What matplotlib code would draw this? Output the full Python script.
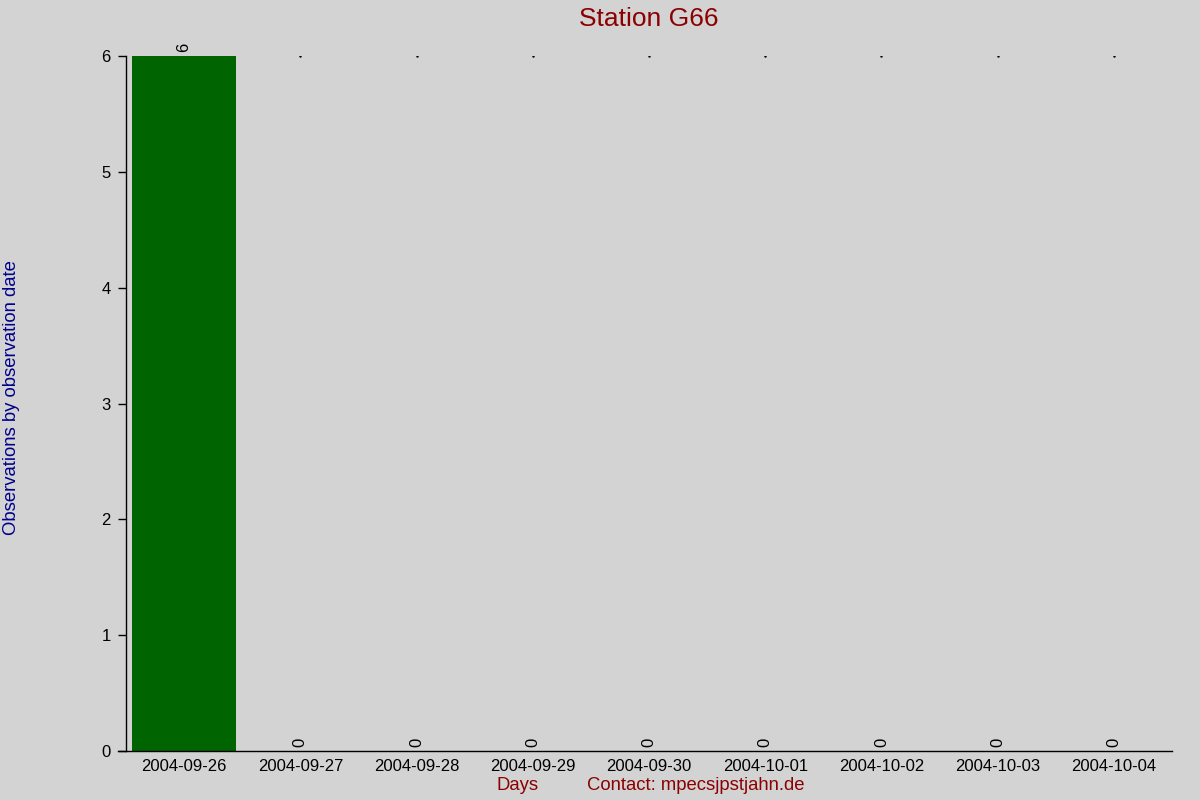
import matplotlib
matplotlib.use('Agg')
import matplotlib.pyplot as plt

days = ['2004-09-26', '2004-09-27', '2004-09-28', '2004-09-29', '2004-09-30',
        '2004-10-01', '2004-10-02', '2004-10-03', '2004-10-04']
counts = [6, 0, 0, 0, 0, 0, 0, 0, 0]

plt.rcParams['font.family'] = ['Liberation Sans', 'DejaVu Sans']

fig = plt.figure(figsize=(12, 8), dpi=100, facecolor='#d3d3d3')
ax = fig.add_axes([0.105, 0.06125, 0.8717, 0.86875], facecolor='#d3d3d3')

x = list(range(len(days)))
ax.bar(x, counts, width=0.9, color='#006400')

# value labels above each bar
for i, c in zip(x, counts):
    ax.annotate(str(c), xy=(i, c), xytext=(0, 3), textcoords='offset points',
                rotation=90, ha='center', va='bottom', fontsize=12)
# tiny marks at the top of the scale
ax.plot(x[1:], [max(counts)] * (len(x) - 1), ls='none', marker='s',
        markersize=0.7, color='black')

ax.set_xlim(-0.5, len(days) - 0.5)
ax.set_ylim(0, max(counts))
ax.set_xticks(x)
ax.set_xticklabels(days, fontsize=12)
ax.set_yticks(range(0, max(counts) + 1))
ax.tick_params(axis='x', length=0, pad=6)
ax.tick_params(axis='y', length=6, width=1, labelsize=12, pad=5)

for s in ['top', 'right', 'bottom']:
    ax.spines[s].set_visible(False)
ax.spines['left'].set_linewidth(1)
ax.plot([-0.0076, 1], [0, 0], transform=ax.transAxes, color='black',
        lw=1, clip_on=False)

fig.text(0.541, 0.976, 'Station G66', color='#8b0000', fontsize=19,
         ha='center', va='center')
fig.text(0.0095, 0.503, 'Observations by observation date', color='#00008b',
         fontsize=13.3, rotation=90, ha='center', va='center')
fig.text(0.4315, 0.0175, 'Days', color='#8b0000', fontsize=13.3,
         ha='center', va='center')
fig.text(0.58, 0.0175, 'Contact: mpecsjpstjahn.de', color='#8b0000',
         fontsize=13.3, ha='center', va='center')

fig.savefig('out.png', dpi=100, facecolor=fig.get_facecolor())
